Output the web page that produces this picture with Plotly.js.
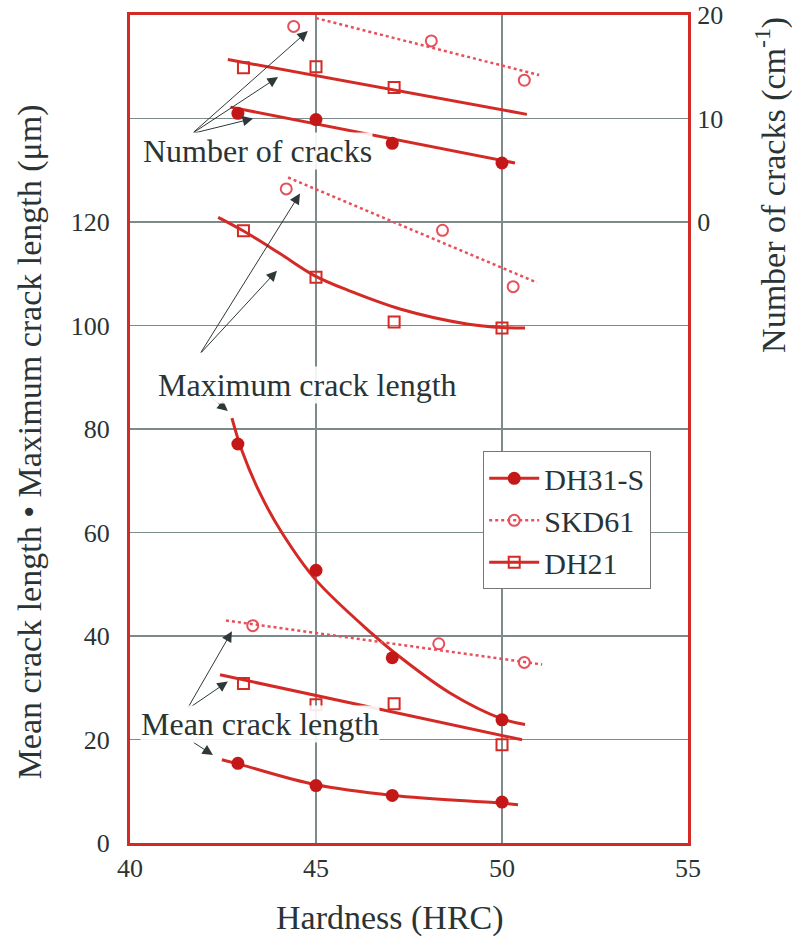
<!DOCTYPE html>
<html><head><meta charset="utf-8">
<script src="https://cdn.plot.ly/plotly-3.0.1.min.js"></script>
<style>html,body{margin:0;padding:0;background:#fff}</style>
</head><body><div id="chart" style="width:792px;height:939px"></div>
<script>
// ---- measured data points (hardness HRC vs value) ----
const dh31Hard   = [42.9, 45.0, 47.05, 50.0];
const dh31Cracks = [10.5, 9.9, 7.6, 5.7];      // cm^-1 (right axis)
const dh31Max    = [77.1, 52.7, 35.8, 23.8];   // um
const dh31Mean   = [15.4, 11.1, 9.2, 7.9];     // um

const skdHardCracks = [44.4, 48.1, 50.6];
const skdCracks     = [18.9, 17.5, 13.7];
const skdHardMax    = [44.2, 48.4, 50.3];
const skdMax        = [126.4, 118.4, 107.5];
const skdHardMean   = [43.3, 48.3, 50.6];
const skdMean       = [42.0, 38.5, 34.9];

const dh21Hard       = [43.05, 45.0, 47.1, 50.0];
const dh21HardCracks = [43.05, 45.0, 47.1];
const dh21Cracks     = [14.9, 15.0, 13.0];
const dh21Max        = [118.3, 109.3, 100.7, 99.5];
const dh21Mean       = [30.8, 26.7, 26.9, 19.0];

// ---- trend lines / curves ----
const fitSkdCracksX = [45.0, 51.0];   const fitSkdCracksY = [19.7, 14.2];
const fitDh21CracksX = [42.63, 50.67]; const fitDh21CracksY = [15.7, 10.4];
const fitDh31CracksX = [42.7, 50.35];  const fitDh31CracksY = [11.1, 5.7];

const fitSkdMaxX = [44.25, 50.94]; const fitSkdMaxY = [128.6, 108.3];
const fitDh21MaxX = [42.37, 43.04, 44.03, 44.97, 45.9, 47.26, 49.06, 50.03, 50.62];
const fitDh21MaxY = [120.9, 118.3, 113.9, 109.6, 106.7, 103.2, 100.3, 99.6, 99.5];
const fitDh31MaxX = [42.74, 43.0, 43.5, 44.08, 45.0, 46.53, 47.07, 48.6, 50.0, 50.62];
const fitDh31MaxY = [82.1, 76.0, 67.5, 60.0, 50.8, 40.3, 37.0, 29.0, 24.0, 22.9];

const fitSkdMeanX = [42.58, 51.08]; const fitSkdMeanY = [43.0, 34.5];
const fitDh21MeanX = [42.42, 50.54]; const fitDh21MeanY = [32.5, 19.95];
const fitDh31MeanX = [42.47, 43.0, 44.97, 47.07, 50.0, 50.43];
const fitDh31MeanY = [16.1, 15.1, 11.3, 9.2, 7.7, 7.4];

// ---- axis ticks ----
const xTicks = [40, 45, 50, 55];
const yLeftTicks = [0, 20, 40, 60, 80, 100, 120];
const yRightTicks = [0, 10, 20];

// ---- styles ----
const RED = '#d42a26', RED_DARK = '#c41818', RED_LIGHT = '#e6505a';
const TXT = '#2a3434';
const FONT = '"Times New Roman", "Liberation Serif", "DejaVu Serif", serif';

const solid = {color: RED, width: 3};
const dotted = {color: RED_LIGHT, width: 2.5, dash: 'dot'};
const mDH31 = {symbol: 'circle', size: 13, color: RED_DARK};
const mSKD = {symbol: 'circle-open', size: 11, color: RED_LIGHT, line: {width: 2}};
const mDH21 = {symbol: 'square-open', size: 11, color: RED, line: {width: 2}};

function line(x, y, l, ax, sp) {
  return {x, y, mode: 'lines', line: Object.assign({shape: sp ? 'spline' : 'linear'}, l),
          yaxis: ax || 'y', showlegend: false, hoverinfo: 'skip'};
}
function pts(x, y, m, ax) {
  return {x, y, mode: 'markers', marker: m, yaxis: ax || 'y', showlegend: false, cliponaxis: false};
}

const traces = [
  line(fitSkdCracksX, fitSkdCracksY, dotted, 'y2'),
  line(fitDh21CracksX, fitDh21CracksY, solid, 'y2'),
  line(fitDh31CracksX, fitDh31CracksY, solid, 'y2'),
  line(fitSkdMaxX, fitSkdMaxY, dotted),
  line(fitDh21MaxX, fitDh21MaxY, solid, 'y', true),
  line(fitDh31MaxX, fitDh31MaxY, solid, 'y', true),
  line(fitSkdMeanX, fitSkdMeanY, dotted),
  line(fitDh21MeanX, fitDh21MeanY, solid),
  line(fitDh31MeanX, fitDh31MeanY, solid, 'y', true),

  pts(skdHardCracks, skdCracks, mSKD, 'y2'),
  pts(dh21HardCracks, dh21Cracks, mDH21, 'y2'),
  pts(dh31Hard, dh31Cracks, mDH31, 'y2'),
  pts(skdHardMax, skdMax, mSKD),
  pts(dh21Hard, dh21Max, mDH21),
  pts(dh31Hard, dh31Max, mDH31),
  pts(skdHardMean, skdMean, mSKD),
  pts(dh21Hard, dh21Mean, mDH21),
  pts(dh31Hard, dh31Mean, mDH31),

  // legend entries
  {x: [null], y: [null], name: 'DH31-S', mode: 'lines+markers', line: solid, marker: mDH31},
  {x: [null], y: [null], name: 'SKD61', mode: 'lines+markers', line: dotted, marker: mSKD},
  {x: [null], y: [null], name: 'DH21', mode: 'lines+markers', line: solid, marker: mDH21}
];

// arrows: [headX, headY, tailX, tailY] in left-axis data units
const arrowList = [
  [44.78, 156.9, 41.67, 137.1], [43.98, 148.0, 41.67, 137.1], [43.31, 140.0, 41.67, 137.1],
  [44.57, 125.5, 41.88, 94.5], [43.95, 110.6, 41.88, 94.5], [42.63, 83.5, 41.88, 87.9],
  [42.74, 40.9, 41.53, 25.8], [42.63, 31.2, 41.53, 25.8], [42.23, 17.0, 41.67, 19.6]
];
const annotations = arrowList.map(a => ({
  x: a[0], y: a[1], ax: a[2], ay: a[3], xref: 'x', yref: 'y', axref: 'x', ayref: 'y',
  text: '', showarrow: true, arrowhead: 2, arrowsize: 2.1, arrowwidth: 1, arrowcolor: '#2e3838'
}));
const labelFont = {family: FONT, size: 32, color: TXT};
[['Number of cracks', 43.44, 133.8], ['Maximum crack length', 44.78, 88.6], ['Mean crack length', 43.49, 23.05]]
  .forEach(l => annotations.push({text: l[0], x: l[1], y: l[2], xref: 'x', yref: 'y',
    xanchor: 'center', yanchor: 'middle',
    showarrow: false, font: labelFont, bgcolor: 'rgba(255,255,255,0.9)', borderpad: 0}));
// axis titles
const titleFont = {family: FONT, size: 34, color: TXT};
annotations.push({text: 'Hardness (HRC)', xref: 'paper', yref: 'paper', x: 0.466, y: -0.0906,
  xanchor: 'center', yanchor: 'middle', showarrow: false, font: titleFont});
annotations.push({text: 'Mean crack length • Maximum crack length (μm)', xref: 'paper', yref: 'paper',
  x: -0.179, y: 0.484, xanchor: 'center', yanchor: 'middle', textangle: -90, showarrow: false, font: titleFont});
annotations.push({text: 'Number of cracks (cm<sup>-1</sup>)', xref: 'paper', yref: 'paper',
  x: 1.149, y: 0.795, xanchor: 'center', yanchor: 'middle', textangle: -90, showarrow: false, font: titleFont});

const tickFont = {family: FONT, size: 26, color: TXT};
const GRID = '#7d8a8a';
const layout = {
  width: 792, height: 939,
  margin: {l: 130, r: 104, t: 15, b: 96},
  paper_bgcolor: '#fff', plot_bgcolor: '#fff',
  font: {family: FONT, color: TXT},
  xaxis: {range: [40, 55], tickvals: xTicks, ticktext: xTicks.map(String), tickfont: tickFont,
    showgrid: true, gridcolor: GRID, gridwidth: 1.2, zeroline: false,
    showline: true, mirror: true, linecolor: RED, linewidth: 3, ticks: ''},
  yaxis: {range: [0, 160], tickvals: yLeftTicks, ticktext: yLeftTicks.map(String), tickfont: tickFont,
    showgrid: true, gridcolor: GRID, gridwidth: 1.2, zeroline: false,
    showline: true, mirror: true, linecolor: RED, linewidth: 3,
    ticks: 'outside', ticklen: 12, tickcolor: 'rgba(0,0,0,0)'},
  yaxis2: {range: [-60, 20], overlaying: 'y', side: 'right', tickvals: yRightTicks,
    ticktext: yRightTicks.map(String), tickfont: tickFont,
    showgrid: true, gridcolor: GRID, gridwidth: 1.2, zeroline: false, showline: false,
    ticks: 'outside', ticklen: 3, tickcolor: 'rgba(0,0,0,0)'},
  legend: {x: 0.633, y: 0.473, xanchor: 'left', yanchor: 'top', bgcolor: '#fff',
    bordercolor: '#777', borderwidth: 1, font: {family: FONT, size: 30, color: TXT},
    tracegroupgap: 0, itemwidth: 50},
  annotations: annotations,
  showlegend: true
};
Plotly.newPlot('chart', traces, layout, {displayModeBar: false, staticPlot: true});
</script></body></html>
